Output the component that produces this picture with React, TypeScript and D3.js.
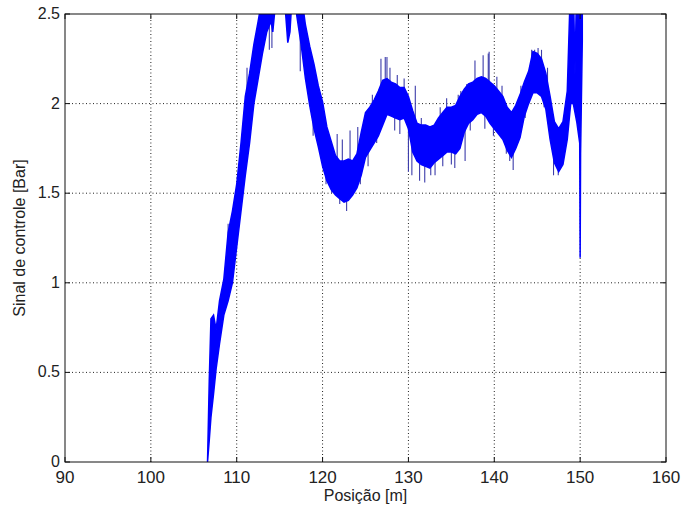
import { useRef, useEffect } from "react";
import * as d3 from "d3";

// envelope of the noisy control signal
const positions = [
  106.6, 106.8, 107.0, 107.3, 107.6, 108.0, 108.5, 109.0, 109.5, 110.0,
  110.5, 111.0, 111.5, 112.0, 112.5, 113.0, 113.5, 114.0, 114.2, 114.5,
  115.0, 115.5, 115.7, 115.95, 116.2, 116.4, 116.7, 117.0, 117.5, 118.0,
  118.5, 119.0, 119.5, 120.0, 120.5, 121.0, 121.5, 122.0, 122.5, 123.0,
  123.5, 124.0, 124.5, 125.0, 125.5, 126.0, 126.5, 127.0, 127.5, 128.0,
  128.5, 129.0, 129.5, 130.0, 130.5, 131.0, 131.5, 132.0, 132.5, 133.0,
  133.5, 134.0, 134.5, 135.0, 135.5, 136.0, 136.5, 137.0, 137.5, 138.0,
  138.5, 139.0, 139.5, 140.0, 140.5, 141.0, 141.5, 142.0, 142.5, 143.0,
  143.5, 144.0, 144.5, 145.0, 145.5, 146.0, 146.5, 147.0, 147.5, 148.0,
  148.5, 148.9, 149.2, 149.4, 149.6, 149.95, 150.0, 150.05, 150.25,
];
const lowerEnv = [
  0, 0.12, 0.25, 0.38, 0.52, 0.66, 0.82, 0.9, 1.0, 1.2,
  1.4, 1.6, 1.78, 2.0, 2.14, 2.28, 2.4, 2.46, 2.4, 2.55,
  2.7, 2.6, 2.5, 2.34, 2.4, 2.56, 2.65, 2.49, 2.33, 2.14,
  1.99, 1.86, 1.76, 1.65, 1.57, 1.52, 1.49, 1.47, 1.45, 1.46,
  1.49, 1.53, 1.6, 1.7, 1.74, 1.78, 1.82, 1.88, 1.94, 1.93,
  1.92, 1.91, 1.92, 1.86, 1.73, 1.68, 1.66, 1.65, 1.64, 1.67,
  1.69, 1.71, 1.73, 1.73, 1.72, 1.75, 1.84, 1.89, 1.91, 1.94,
  1.95, 1.93, 1.89, 1.86, 1.83, 1.8, 1.74, 1.7, 1.75, 1.81,
  1.93, 2.0, 2.06, 2.06, 2.04, 1.97, 1.8, 1.67, 1.62, 1.66,
  1.8, 2.0, 2.0, 1.95, 1.9, 1.78, 1.14, 1.72, 2.35,
];
const upperEnv = [
  0, 0.45, 0.8, 0.82, 0.74, 0.9, 1.02, 1.28, 1.4, 1.55,
  1.78, 2.04, 2.17, 2.33, 2.46, 2.6, 2.7, 2.8, 2.8, 2.8,
  2.8, 2.8, 2.8, 2.8, 2.8, 2.8, 2.8, 2.8, 2.62, 2.44,
  2.32, 2.22, 2.1, 2.01, 1.87, 1.79, 1.71, 1.68, 1.68, 1.69,
  1.68, 1.72, 1.84, 1.95, 1.98, 2.02, 2.07, 2.13, 2.14, 2.12,
  2.11, 2.09, 2.09, 2.04, 1.96, 1.89, 1.88, 1.88, 1.87, 1.88,
  1.92, 1.95, 1.98, 1.98, 1.99, 2.04, 2.08, 2.11, 2.12, 2.14,
  2.15, 2.14, 2.12, 2.1, 2.07, 2.04, 1.98, 1.95, 1.99, 2.05,
  2.12, 2.18, 2.29, 2.28, 2.25, 2.17, 2.04, 1.9, 1.86, 1.9,
  2.07, 2.7, 2.7, 2.16, 2.7, 2.7, 2.7, 2.7, 2.7,
];

// single noise spikes sticking out of the band
const spikePos = [
  109.0, 111.2, 113.8, 114.1, 117.4, 118.9, 119.9, 120.4, 121.06, 121.7,
  122.0, 122.3, 122.8, 123.2, 124.1, 124.4, 125.3, 125.8, 126.3, 126.8,
  127.3, 127.5, 127.85, 128.4, 128.7, 129.0, 129.5, 130.0, 130.4, 130.8,
  131.3, 131.5, 131.9, 132.6, 133.1, 133.7, 134.0, 134.45, 135.0, 135.4,
  135.8, 136.1, 136.6, 136.8, 137.2, 137.75, 138.7, 138.9, 139.3, 139.4,
  139.9, 140.3, 140.9, 141.4, 141.8, 142.2, 143.1, 143.6, 144.35, 144.7,
  145.1, 145.5, 145.8, 146.2, 146.9, 147.45,
];
const spikeTip = [
  1.33, 2.2, 2.3, 2.31, 2.18, 1.82, 1.76, 1.55, 1.5, 1.83,
  1.44, 1.8, 1.4, 1.85, 1.87, 1.55, 1.65, 2.05, 1.78, 2.25,
  2.26, 2.26, 2.2, 1.85, 2.16, 1.83, 2.14, 1.62, 1.6, 2.1,
  1.57, 1.92, 1.56, 1.6, 1.6, 1.98, 1.65, 2.03, 1.66, 1.64,
  2.05, 2.07, 1.68, 2.11, 1.85, 2.24, 2.27, 1.86, 2.28, 2.29,
  1.82, 2.15, 2.1, 1.72, 1.68, 1.63, 2.1, 1.92, 2.3, 2.3,
  2.31, 2.3, 1.98, 2.2, 1.6, 1.6,
];

const xTicks = [90, 100, 110, 120, 130, 140, 150, 160];
const yTicks = [0, 0.5, 1, 1.5, 2, 2.5];

export default function App() {
  const svgRef = useRef<SVGSVGElement>(null);

  useEffect(() => {
    const svg = d3.select(svgRef.current);
    svg.selectAll("*").remove();

    const width = 682;
    const height = 508;
    const margin = { top: 14, right: 16, bottom: 46, left: 65 };
    const font = "'Liberation Sans', Arial, sans-serif";

    const x = d3.scaleLinear().domain([90, 160]).range([margin.left, width - margin.right]);
    const y = d3.scaleLinear().domain([0, 2.5]).range([height - margin.bottom, margin.top]);

    svg.append("rect").attr("width", width).attr("height", height).attr("fill", "#fff");

    svg.append("clipPath").attr("id", "plotClip")
      .append("rect")
      .attr("x", x(90)).attr("y", y(2.5))
      .attr("width", x(160) - x(90)).attr("height", y(0) - y(2.5));

    // Grid
    const grid = svg.append("g").attr("stroke", "#222").attr("stroke-dasharray", "1,2.5").attr("stroke-width", 1);
    xTicks.slice(1, -1).forEach(t => {
      grid.append("line").attr("x1", x(t)).attr("x2", x(t)).attr("y1", y(0)).attr("y2", y(2.5));
    });
    yTicks.slice(1, -1).forEach(t => {
      grid.append("line").attr("x1", x(90)).attr("x2", x(160)).attr("y1", y(t)).attr("y2", y(t));
    });

    // Signal band
    const rows = positions.map((p, i) => ({ p, lo: lowerEnv[i], hi: upperEnv[i] }));
    const area = d3.area<{ p: number; lo: number; hi: number }>()
      .x(d => x(d.p))
      .y0(d => y(d.lo))
      .y1(d => y(d.hi));

    const plot = svg.append("g").attr("clip-path", "url(#plotClip)");

    const bisect = d3.bisector((d: { p: number }) => d.p).center;
    plot.selectAll("line.spike")
      .data(spikePos.map((p, i) => ({ p, tip: spikeTip[i] })))
      .enter()
      .append("line")
      .attr("x1", d => x(d.p)).attr("x2", d => x(d.p))
      .attr("y1", d => {
        const r = rows[bisect(rows, d.p)];
        return y((r.lo + r.hi) / 2);
      })
      .attr("y2", d => y(d.tip))
      .attr("stroke", "#3c3caa")
      .attr("stroke-width", 1.1);

    plot.append("path")
      .datum(rows)
      .attr("fill", "#0000ff")
      .attr("stroke", "#0000ff")
      .attr("stroke-width", 1.5)
      .attr("stroke-linejoin", "miter")
      .attr("d", area);

    // Box and ticks
    svg.append("rect")
      .attr("x", x(90)).attr("y", y(2.5))
      .attr("width", x(160) - x(90)).attr("height", y(0) - y(2.5))
      .attr("fill", "none").attr("stroke", "#111").attr("stroke-width", 1);

    const ticks = svg.append("g").attr("stroke", "#111").attr("stroke-width", 1);
    xTicks.forEach(t => {
      ticks.append("line").attr("x1", x(t)).attr("x2", x(t)).attr("y1", y(0)).attr("y2", y(0) - 5);
      ticks.append("line").attr("x1", x(t)).attr("x2", x(t)).attr("y1", y(2.5)).attr("y2", y(2.5) + 5);
    });
    yTicks.forEach(t => {
      ticks.append("line").attr("x1", x(90)).attr("x2", x(90) + 5).attr("y1", y(t)).attr("y2", y(t));
      ticks.append("line").attr("x1", x(160)).attr("x2", x(160) - 5).attr("y1", y(t)).attr("y2", y(t));
    });

    svg.append("g")
      .selectAll("text")
      .data(xTicks)
      .enter()
      .append("text")
      .attr("x", d => x(d))
      .attr("y", y(0) + 21)
      .attr("text-anchor", "middle")
      .style("font-family", font)
      .style("font-size", "17px")
      .style("fill", "#222")
      .text(d => String(d));

    svg.append("g")
      .selectAll("text")
      .data(yTicks)
      .enter()
      .append("text")
      .attr("x", x(90) - 5)
      .attr("y", d => y(d) + 5)
      .attr("text-anchor", "end")
      .style("font-family", font)
      .style("font-size", "16px")
      .style("fill", "#222")
      .text(d => String(d));

    svg.append("text")
      .attr("x", (x(90) + x(160)) / 2)
      .attr("y", 501)
      .attr("text-anchor", "middle")
      .style("font-family", font)
      .style("font-size", "16px")
      .style("fill", "#222")
      .text("Posição [m]");

    svg.append("text")
      .attr("transform", `translate(25,${(y(0) + y(2.5)) / 2}) rotate(-90)`)
      .attr("text-anchor", "middle")
      .style("font-family", font)
      .style("font-size", "16px")
      .style("fill", "#222")
      .text("Sinal de controle [Bar]");
  }, []);

  return (
    <svg
      ref={svgRef}
      width={682}
      height={508}
      style={{ position: "absolute", left: 0, top: 0 }}
    />
  );
}
